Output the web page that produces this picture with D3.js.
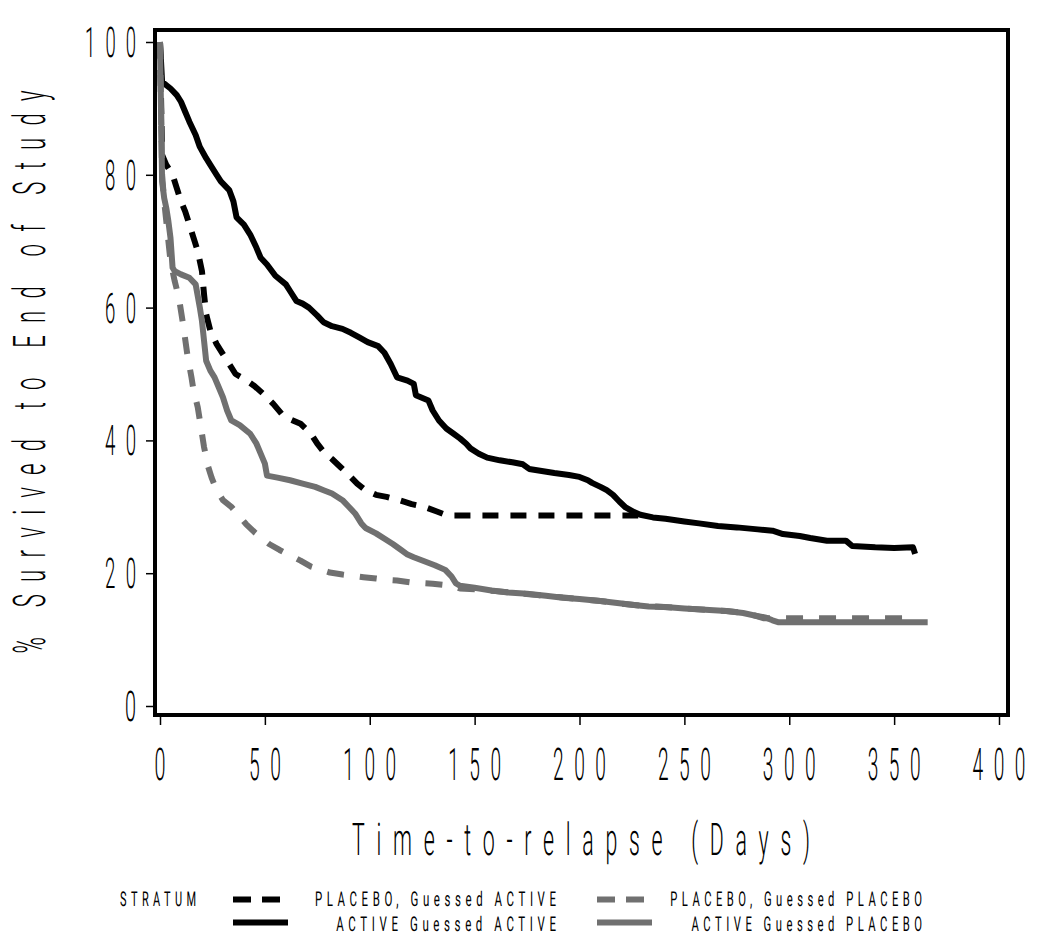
<!DOCTYPE html>
<html><head><meta charset="utf-8">
<script src="https://cdn.jsdelivr.net/npm/d3@7"></script>
<style>html,body{margin:0;padding:0;background:#fff;}svg{display:block;}</style>
</head><body>
<svg id="chart" width="1050" height="947"></svg>
<script>
// ---- data (day, % surviving) ----
const seriesNames = ["PLACEBO, Guessed ACTIVE", "ACTIVE Guessed ACTIVE", "PLACEBO, Guessed PLACEBO", "ACTIVE Guessed PLACEBO"];
const xTicks = [0, 50, 100, 150, 200, 250, 300, 350, 400];
const yTicks = [0, 20, 40, 60, 80, 100];

const placeboActive = [[0,100],[1,83],[3,81.5],[6,80],[8,78],[10,76],[12,74.5],[14,72.5],[16,70.5],[18,68.5],[20,65.5],[21,62],[22,59],[24,56.5],[27,54.5],[30,53],[33,51.5],[36,50],[40,49.3],[45,48.2],[50,46.8],[54,45.5],[58,44],[62,43.2],[67,42.5],[72,41],[75,39.5],[78,38.3],[82,37.2],[86,36],[90,34.8],[94,33.5],[98,32.5],[103,31.8],[108,31.5],[114,31],[120,30.4],[126,30],[132,29.3],[137,28.7],[228,28.7]];

const activeActive = [[0,100],[1,94],[5,93],[8,92],[10,91],[12,89.5],[14,88],[17,86],[19,84.2],[22,82.5],[24,81.5],[27,80],[29,79],[33,77.7],[35,76],[36.5,73.6],[40,72.5],[43,71],[46,69],[48,67.5],[51,66.5],[55,64.8],[60,63.5],[62,62.5],[65,61],[68,60.6],[71,60],[75,58.8],[78,57.8],[82,57.2],[87,56.8],[91,56.2],[95,55.5],[99,54.8],[104,54.2],[107,53.2],[110,51.5],[113,49.5],[118,49],[121,48.5],[122,46.8],[128,46],[130,44.5],[133,43],[136.5,41.8],[140,41],[143,40.3],[146,39.5],[148,38.8],[152,38],[156,37.4],[162,37],[168,36.7],[173,36.4],[176,35.7],[182,35.4],[188,35.1],[195,34.8],[200,34.5],[204,34],[206,33.6],[210,33],[213,32.5],[216,31.8],[219,30.8],[222,29.9],[226,29.2],[229,28.8],[235,28.4],[241,28.2],[250,27.8],[257,27.5],[266,27.1],[275,26.9],[285,26.6],[292,26.4],[297,25.9],[305,25.6],[310,25.3],[318,24.9],[327,24.9],[330,24.1],[341,23.9],[350,23.8],[359,23.9],[360,22.9]];

const placeboPlacebo = [[0,100],[1,80],[2,76],[3,73],[4,70],[5,67],[7,64],[9,61.5],[11,57.5],[13,53],[15,49.5],[16,47.5],[18,45],[19,43],[20,41],[21,39],[23,36],[24.6,34.4],[27,32.5],[30,31],[34,30],[38,28.5],[41,27.4],[45,26.2],[49,25.2],[52,24.4],[57,23.5],[62,22.7],[67,21.9],[72,21],[77,20.5],[81,20.1],[87,19.8],[92,19.6],[97,19.4],[103,19.2],[108,19],[113,18.9],[120,18.6],[130,18.4],[136,18.2],[141,17.9],[143,17.7],[150,17.6],[160,17.3],[170,17],[180,16.7],[190,16.4],[200,16.1],[210,15.8],[220,15.4],[230,15.1],[240,14.9],[250,14.7],[260,14.5],[270,14.3],[280,14],[288,13.2],[360,13.2]];

const activePlacebo = [[0,100],[1,79],[2,76.5],[3,75],[4,73],[5,70.5],[6,66],[7,65.5],[10,65],[14,64.5],[17,63.5],[19,60],[20,58],[21,55],[22,52],[24,50.5],[26,49.5],[28,48],[30,46.5],[32,44.5],[34,43],[38,42.3],[43,41],[46,39.5],[48,38],[50,36.5],[51,34.7],[56,34.4],[62,34],[68,33.5],[74,33],[78,32.5],[82,32],[87,31],[90,30],[93,29],[96,27.5],[98,26.8],[103,26],[108,25],[111,24.4],[115,23.5],[118,22.8],[121,22.4],[126,21.8],[131,21.2],[136,20.5],[139,19.5],[141,18.5],[143,18.1],[150,17.8],[158,17.4],[166,17.1],[175,16.9],[184,16.6],[192,16.3],[200,16.1],[210,15.8],[218,15.5],[226,15.2],[233,15],[241,14.9],[250,14.7],[260,14.5],[270,14.3],[278,14],[284,13.6],[289,13.3],[292,12.9],[295,12.6],[366,12.6]];

// ---- layout ----
const svg = d3.select("#chart");
const x = d3.scaleLinear().domain([0, 400]).range([160, 999]);
const y = d3.scaleLinear().domain([0, 100]).range([706, 42]);
const frame = {x0: 155, x1: 1008, y0: 30, y1: 715};
const FONT = "Roboto, 'DejaVu Sans', sans-serif";

function sasText(g, str, o) {
  const fs = o.cap / 0.711;
  const ls = fs * (o.spacing || 0.55);
  const t = g.append("text").text(str)
    .attr("font-family", FONT).attr("font-size", fs).attr("font-weight", o.weight || 300)
    .attr("letter-spacing", ls).attr("fill", "#000")
    .attr("text-rendering", "geometricPrecision");
  const w = t.node().getComputedTextLength() - ls;
  const s = o.width / w;
  const a = o.anchor || "start";
  const x0 = a === "start" ? 0 : a === "middle" ? -o.width / 2 : -o.width;
  const rot = o.rotate ? ` rotate(${o.rotate})` : "";
  t.attr("transform", `translate(${o.x},${o.y})${rot} translate(${x0},0) scale(${s},1)`);
  return t;
}

// lines
const line = d3.line().x(d => x(d[0])).y(d => y(d[1])).curve(d3.curveLinear);
const series = [
  {data: placeboActive, color: "#000", dash: "16,12"},
  {data: activeActive, color: "#000", dash: null},
  {data: activePlacebo, color: "#707070", dash: null},
  {data: placeboPlacebo, color: "#707070", dash: "17,16"}
];
svg.append("g").selectAll("path").data(series).join("path")
  .attr("d", d => line(d.data))
  .attr("fill", "none")
  .attr("stroke", d => d.color)
  .attr("stroke-width", 6)
  .attr("stroke-linejoin", "round")
  .attr("stroke-dasharray", d => d.dash);

// frame
svg.append("rect").attr("x", frame.x0).attr("y", frame.y0)
  .attr("width", frame.x1 - frame.x0).attr("height", frame.y1 - frame.y0)
  .attr("fill", "none").attr("stroke", "#000").attr("stroke-width", 4);

// x axis
const xAxis = svg.append("g").attr("transform", `translate(0,${frame.y1 + 2})`)
  .call(d3.axisBottom(x).tickValues(xTicks).tickSize(8).tickFormat(""));
xAxis.select(".domain").remove();
xAxis.selectAll("line").attr("stroke", "#000").attr("stroke-width", 1.5);
xTicks.forEach(v => {
  const n = String(v).length;
  sasText(svg, String(v), {x: x(v), y: 780, cap: 32, width: n * 21 - 10, anchor: "middle"});
});

// y axis
const yAxis = svg.append("g").attr("transform", `translate(${frame.x0 - 2},0)`)
  .call(d3.axisLeft(y).tickValues(yTicks).tickSize(7).tickFormat(""));
yAxis.select(".domain").remove();
yAxis.selectAll("line").attr("stroke", "#000").attr("stroke-width", 1.5);
yTicks.forEach(v => {
  const n = String(v).length;
  sasText(svg, String(v), {x: 136, y: y(v) + 15, cap: 30, width: n * 20 - 9, anchor: "end"});
});

// titles
sasText(svg, "Time-to-relapse (Days)", {x: 581, y: 855, cap: 32, width: 458, anchor: "middle"});
sasText(svg, "% Survived to End of Study", {x: 45, y: 372, cap: 32, width: 563, anchor: "middle", rotate: -90});

// legend
const lg = svg.append("g");
sasText(lg, "STRATUM", {x: 120, y: 906, cap: 14.5, width: 76, spacing: 0.4, weight: 400});
const legendItems = [
  {name: seriesNames[0], color: "#000", dash: "18,11", lx: 233, ly: 899.5, tx: 556, ty: 906},
  {name: seriesNames[1], color: "#000", dash: null, lx: 233, ly: 922.5, tx: 556, ty: 931},
  {name: seriesNames[2], color: "#707070", dash: "18,11", lx: 597, ly: 899.5, tx: 922, ty: 906},
  {name: seriesNames[3], color: "#707070", dash: null, lx: 597, ly: 922.5, tx: 922, ty: 931}
];
legendItems.forEach(it => {
  lg.append("line").attr("x1", it.lx).attr("x2", it.lx + 55)
    .attr("y1", it.ly).attr("y2", it.ly)
    .attr("stroke", it.color).attr("stroke-width", 6)
    .attr("stroke-dasharray", it.dash);
  sasText(lg, it.name, {x: it.tx, y: it.ty, cap: 14.5, width: it.name.length * 10.7 - 5, anchor: "end", spacing: 0.4, weight: 400});
});
</script>
</body></html>
